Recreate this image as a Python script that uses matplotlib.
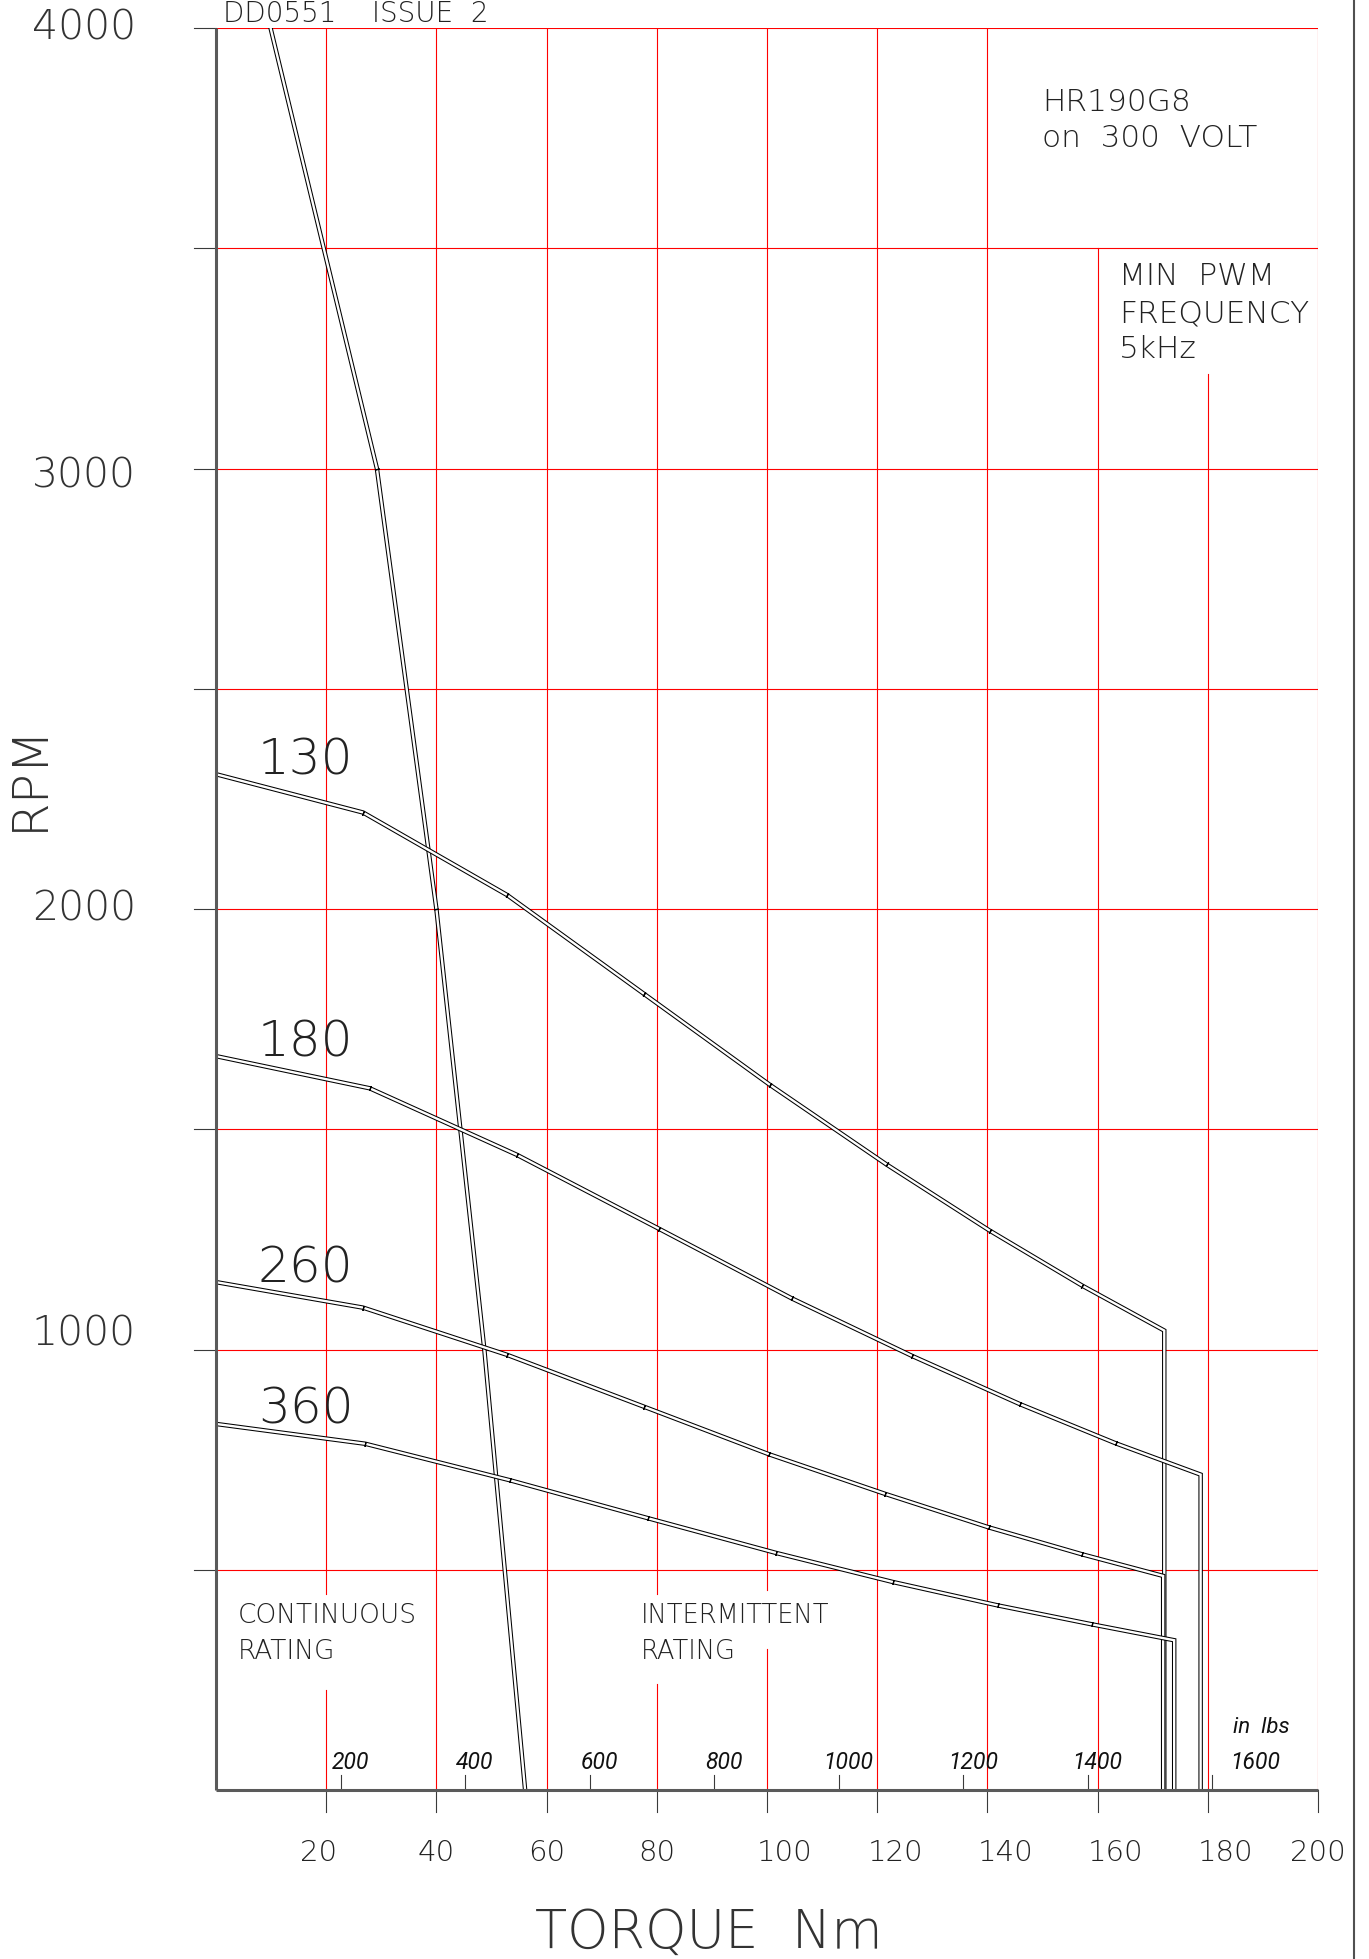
import numpy as np
import matplotlib
matplotlib.use("Agg")
import matplotlib.pyplot as plt
from matplotlib.lines import Line2D

# speed / torque curves (Nm, rpm)
t130 = [0, 26.7, 52.8, 77.6, 100.5, 121.7, 140.4, 157.2, 172.1, 172.1]
r130 = [2306, 2219, 2032, 1808, 1601, 1420, 1270, 1145, 1043, 0]

t180 = [0, 27.9, 54.6, 80.4, 104.5, 126.4, 145.9, 163.3, 178.7, 178.7]
r180 = [1666, 1593, 1442, 1274, 1116, 985, 876, 787, 716, 0]

t260 = [0, 26.7, 52.8, 77.7, 100.4, 121.5, 140.3, 157.2, 171.9, 171.9]
r260 = [1153, 1095, 988, 870, 762, 672, 596, 535, 486, 0]

t360 = [0, 27.1, 53.4, 78.4, 101.7, 122.9, 141.9, 159.0, 173.9, 173.9]
r360 = [831, 786, 703, 617, 538, 472, 419, 376, 340, 0]

# continuous rating line
t_cont = [9.9, 29.2, 40.0, 48.7, 56.1]
r_cont = [4000, 3000, 2000, 1000, 0]

curve_names = ["130", "180", "260", "360"]
nm_ticks = [20, 40, 60, 80, 100, 120, 140, 160, 180, 200]
rpm_grid = [500, 1000, 1500, 2000, 2500, 3000, 3500, 4000]
rpm_labels = [1000, 2000, 3000, 4000]
inlb_ticks = [200, 400, 600, 800, 1000, 1200, 1400, 1600]
NM_TO_INLB = 8.8507

W, H = 1369, 1959
FONT = "DejaVu Sans"
LIGHT = 200
ITAL = ["Roboto", "Open Sans", "DejaVu Sans"]

fig = plt.figure(figsize=(W / 100, H / 100), dpi=100)
x0, x1, ytop, ybot = 216, 1318, 28, 1790
ax = fig.add_axes([x0 / W, 1 - ybot / H, (x1 - x0) / W, (ybot - ytop) / H])
ax.set_xlim(0, 200)
ax.set_ylim(0, 4000)
ax.axis("off")

pxx = (x1 - x0) / 200.0     # px per Nm
pxy = (ybot - ytop) / 4000.0  # px per rpm

red = "#ff0000"
dark = "#3a3a3a"

# horizontal red grid + little ticks left of the axis
for r in rpm_grid:
    ax.plot([0, 200], [r, r], color=red, lw=0.8, zorder=1)
    ax.plot([-22 / pxx, 0], [r, r], color=dark, lw=0.8, clip_on=False, zorder=1)

# vertical red grid, with the gaps the drawing leaves for text
gaps = {20: (226, 446), 80: (240, 446), 100: (319, 453)}
for t in nm_ticks:
    if t in gaps:
        lo, hi = gaps[t]
        ax.plot([t, t], [0, lo], color=red, lw=0.8, zorder=1)
        ax.plot([t, t], [hi, 4000], color=red, lw=0.8, zorder=1)
    elif t == 160:
        ax.plot([t, t], [0, 3500], color=red, lw=0.8, zorder=1)
    elif t == 180:
        ax.plot([t, t], [0, 3215], color=red, lw=0.8, zorder=1)
    else:
        ax.plot([t, t], [0, 4000], color=red, lw=0.8, zorder=1)
    ax.plot([t, t], [-22 / pxy, 0], color=dark, lw=0.8, clip_on=False, zorder=1)
    dx = 18 if 100 <= t < 200 else (-8 if t == 20 else 0)
    ax.annotate(str(t), (t, 0), xytext=(dx * 0.72, -63 * 0.72), textcoords="offset points",
                ha="center", va="center", fontsize=21, family=FONT, fontweight=LIGHT, color="#222222")

# axis lines
ax.plot([0, 200], [0, 0], color="#5a5a5a", lw=2.2, clip_on=False, zorder=5, solid_capstyle="butt")
ax.plot([0, 0], [0, 4000], color="#5a5a5a", lw=2.2, clip_on=False, zorder=5, solid_capstyle="butt")

# the hand placed rpm numbers sit a little off their grid lines
ylab_dy = {1000: 15, 2000: 0, 3000: -7, 4000: 0}
for r in rpm_labels:
    ax.annotate(str(r), (0, r), xytext=(-80 * 0.72, ylab_dy[r] * 0.72), textcoords="offset points",
                ha="right", va="center", fontsize=29.5, family=FONT, fontweight=LIGHT, color="#333333")

# in-lb secondary scale
for v in inlb_ticks:
    t = v / NM_TO_INLB
    ax.plot([t, t], [0, 15 / pxy], color=dark, lw=0.8, zorder=4)
    off = 43 if v == 1600 else 10
    ax.annotate(str(v), (t, 0), xytext=(off * 0.72, 21 * 0.72), textcoords="offset points",
                ha="center", va="baseline", fontsize=16.5, family=ITAL, style="italic",
                fontweight="normal", color="#111111")
ax.annotate("in  lbs", (1600 / NM_TO_INLB, 0), xytext=(21 * 0.72, 57 * 0.72), textcoords="offset points",
            ha="left", va="baseline", fontsize=16, family=ITAL, style="italic",
            fontweight="normal", color="#111111")


def double_line(xs, ys, marks=True):
    # CAD style hollow line: black outline with white core
    ax.plot(xs, ys, color="black", lw=3.2, solid_joinstyle="miter", solid_capstyle="projecting", zorder=3)
    ax.plot(xs, ys, color="white", lw=1.7, solid_joinstyle="miter", solid_capstyle="butt", zorder=3)
    if not marks:
        return
    pts = ax.transData.transform(np.column_stack([xs, ys]))
    for i in range(1, len(xs) - 2):
        d = pts[i + 1] - pts[i - 1]
        ang = np.degrees(np.arctan2(d[1], d[0]))
        ax.plot([xs[i]], [ys[i]], marker=(2, 2, ang), ms=3.4, mew=0.9, color="black", zorder=3)


double_line(t_cont, r_cont)
curves = [(t130, r130), (t180, r180), (t260, r260), (t360, r360)]
for (ts, rs), name in zip(curves, curve_names):
    double_line(ts, rs)
    ax.text(7.6, rs[0], name, ha="left", va="baseline", fontsize=36, family=FONT,
            fontweight=LIGHT, color="#222222")


def ftext(px, py, s, size, **kw):
    fig.text(px / W, 1 - py / H, s, fontsize=size, family=FONT, fontweight=LIGHT,
             color="#222222", va="baseline", **kw)


ftext(223, 22, "DD0551    ISSUE  2", 20)
ftext(1042, 111, "HR190G8", 22.5)
ftext(1042, 147, "on  300  VOLT", 22.5)
ftext(1119, 285, "MIN  PWM", 22.5)
ftext(1119, 322, "FREQUENCY", 22.5)
ftext(1119, 358, "5kHz", 22.5)
ftext(238, 1623, "CONTINUOUS", 19)
ftext(238, 1659, "RATING", 19)
ftext(641, 1623, "INTERMITTENT", 18.5)
ftext(641, 1659, "RATING", 18.5)
fig.text(709 / W, 1 - 1948 / H, "TORQUE  Nm", fontsize=38, family=FONT, fontweight=LIGHT,
         color="#333333", ha="center", va="baseline")
fig.text(29 / W, 1 - 777 / H, "RPM", fontsize=36, family=FONT, fontweight=LIGHT,
         color="#333333", ha="center", va="center", rotation=90)

# frame line on the right side of the sheet
fig.add_artist(Line2D([1354 / W, 1354 / W], [0, 1], color="#505050", lw=1.5))

fig.savefig("out.png", dpi=100, facecolor="white")
